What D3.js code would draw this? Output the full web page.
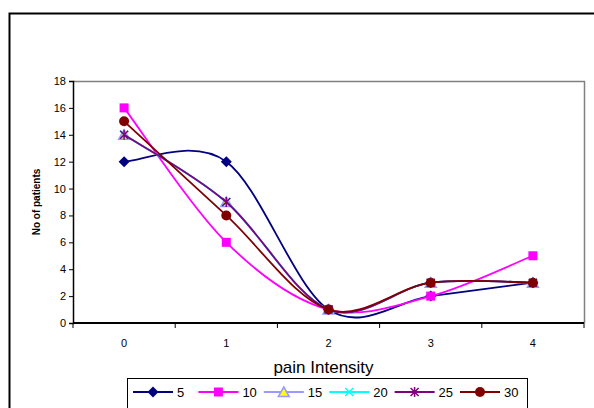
<!DOCTYPE html>
<html>
<head>
<meta charset="utf-8">
<script src="https://cdn.jsdelivr.net/npm/d3@7"></script>
<style>
  body { margin: 0; background: #fff; }
  svg { display: block; font-family: "Liberation Sans", Arial, sans-serif; }
</style>
</head>
<body>
<svg id="chart" width="594" height="408"></svg>
<script>
// dados
const categories = ["0", "1", "2", "3", "4"];
const seriesNames = ["5", "10", "15", "20", "25", "30"];
const s5  = [12, 12, 1, 2, 3];
const s10 = [16, 6, 1, 2, 5];
const s15 = [14, 9, 1, 3, 3];
const s20 = [14, 9, 1, 3, 3];
const s25 = [14, 9, 1, 3, 3];
const s30 = [15, 8, 1, 3, 3];
const yTicks = [0, 2, 4, 6, 8, 10, 12, 14, 16, 18];

const seriesValues = [s5, s10, s15, s20, s25, s30];
const styles = [
  { line: "#000080", marker: "diamond", fill: "#000080", stroke: "#000080" },
  { line: "#FF00FF", marker: "square", fill: "#FF00FF", stroke: "#FF00FF" },
  { line: "#9999FF", marker: "triangle", fill: "#FFFF00", stroke: "#9999FF" },
  { line: "#00FFFF", marker: "x", fill: "none", stroke: "#00FFFF" },
  { line: "#800080", marker: "star", fill: "none", stroke: "#800080" },
  { line: "#800000", marker: "circle", fill: "#800000", stroke: "#800000" }
];

const svg = d3.select("#chart");

// moldura exterior
svg.append("rect")
  .attr("x", 9.5).attr("y", 13.5)
  .attr("width", 700).attr("height", 500)
  .attr("fill", "none").attr("stroke", "#000").attr("stroke-width", 2);

const plot = { left: 73, top: 81, right: 584, bottom: 323 };

const x = d3.scaleBand().domain(categories).range([plot.left, plot.right]);
const y = d3.scaleLinear().domain([0, 18]).range([plot.bottom, plot.top]);

// borda da área do gráfico (cinza)
svg.append("path")
  .attr("d", `M${plot.left},${plot.top + 0.5}H${plot.right + 0.5}V${plot.bottom}`)
  .attr("fill", "none").attr("stroke", "#808080").attr("stroke-width", 1.5);

// eixo Y
const yAxis = svg.append("g")
  .attr("transform", `translate(${plot.left},0)`)
  .call(d3.axisLeft(y).tickValues(yTicks).tickSize(4).tickPadding(3));
yAxis.select(".domain").attr("stroke", "#000").attr("stroke-width", 1.5);
yAxis.selectAll("text").attr("font-size", 11).attr("fill", "#000")
  .attr("font-family", "Liberation Sans, Arial, sans-serif");

// eixo X (ticks entre categorias)
const xAxisG = svg.append("g").attr("transform", `translate(0,${plot.bottom})`);
xAxisG.append("line")
  .attr("x1", plot.left).attr("x2", plot.right)
  .attr("stroke", "#000").attr("stroke-width", 2);
const bounds = categories.map(c => x(c)).concat([x(categories[categories.length - 1]) + x.bandwidth()]);
xAxisG.selectAll("line.tick")
  .data(bounds)
  .enter().append("line")
  .attr("class", "tick")
  .attr("x1", d => d).attr("x2", d => d)
  .attr("y1", 0).attr("y2", 5)
  .attr("stroke", "#000").attr("stroke-width", 1);
xAxisG.selectAll("text")
  .data(categories)
  .enter().append("text")
  .attr("x", d => x(d) + x.bandwidth() / 2)
  .attr("y", 24)
  .attr("text-anchor", "middle")
  .attr("font-size", 11)
  .text(d => d);

// títulos dos eixos
svg.append("text")
  .attr("x", (plot.left + plot.right) / 2 - 5)
  .attr("y", 373)
  .attr("text-anchor", "middle")
  .attr("font-size", 17)
  .text("pain Intensity");

svg.append("text")
  .attr("transform", `translate(40,${(plot.top + plot.bottom) / 2}) rotate(-90)`)
  .attr("text-anchor", "middle")
  .attr("font-size", 10)
  .attr("font-weight", "bold")
  .text("No of patients");

// marcadores
function drawMarker(g, type, st) {
  if (type === "diamond") {
    g.append("path").attr("d", "M0,-5.5L5.5,0L0,5.5L-5.5,0Z").attr("fill", st.fill);
  } else if (type === "square") {
    g.append("rect").attr("x", -4.5).attr("y", -4.5).attr("width", 9).attr("height", 9).attr("fill", st.fill);
  } else if (type === "triangle") {
    g.append("path").attr("d", "M0,-5L5.5,4.5L-5.5,4.5Z")
      .attr("fill", st.fill).attr("stroke", st.stroke).attr("stroke-width", 1.5);
  } else if (type === "x") {
    g.append("path").attr("d", "M-4,-4L4,4M-4,4L4,-4")
      .attr("stroke", st.stroke).attr("stroke-width", 1.5);
  } else if (type === "star") {
    g.append("path").attr("d", "M-4,-4L4,4M-4,4L4,-4M0,-5V5")
      .attr("stroke", st.stroke).attr("stroke-width", 1.5);
  } else if (type === "circle") {
    g.append("circle").attr("r", 5).attr("fill", st.fill);
  }
}

// linha suavizada estilo Excel (Bezier com pontas duplicadas)
function smoothPath(vals) {
  const pts = vals.map((v, i) => [x(categories[i]) + x.bandwidth() / 2, y(v)]);
  const p = d3.path();
  p.moveTo(pts[0][0], pts[0][1]);
  for (let i = 0; i < pts.length - 1; i++) {
    const p0 = pts[Math.max(i - 1, 0)];
    const p1 = pts[i];
    const p2 = pts[i + 1];
    const p3 = pts[Math.min(i + 2, pts.length - 1)];
    p.bezierCurveTo(
      p1[0] + (p2[0] - p0[0]) / 6, p1[1] + (p2[1] - p0[1]) / 6,
      p2[0] - (p3[0] - p1[0]) / 6, p2[1] - (p3[1] - p1[1]) / 6,
      p2[0], p2[1]);
  }
  return p.toString();
}

seriesValues.forEach((vals, k) => {
  const st = styles[k];
  svg.append("path")
    .attr("d", smoothPath(vals))
    .attr("fill", "none")
    .attr("stroke", st.line)
    .attr("stroke-width", 1.8);
  vals.forEach((v, i) => {
    const g = svg.append("g")
      .attr("transform", `translate(${x(categories[i]) + x.bandwidth() / 2},${y(v)})`);
    drawMarker(g, st.marker, st);
  });
});

// legenda
const legend = svg.append("g");
legend.append("rect")
  .attr("x", 127.5).attr("y", 378.5)
  .attr("width", 400).attr("height", 40)
  .attr("fill", "#fff").attr("stroke", "#000").attr("stroke-width", 1);
const legendY = 392;
seriesNames.forEach((name, k) => {
  const cx = 153 + k * 65.4;
  const st = styles[k];
  legend.append("line")
    .attr("x1", cx - 20).attr("x2", cx + 20)
    .attr("y1", legendY).attr("y2", legendY)
    .attr("stroke", st.line).attr("stroke-width", 1.8);
  const g = legend.append("g").attr("transform", `translate(${cx},${legendY})`);
  drawMarker(g, st.marker, st);
  legend.append("text")
    .attr("x", cx + 24).attr("y", legendY + 4.5)
    .attr("font-size", 13)
    .text(name);
});
</script>
</body>
</html>
